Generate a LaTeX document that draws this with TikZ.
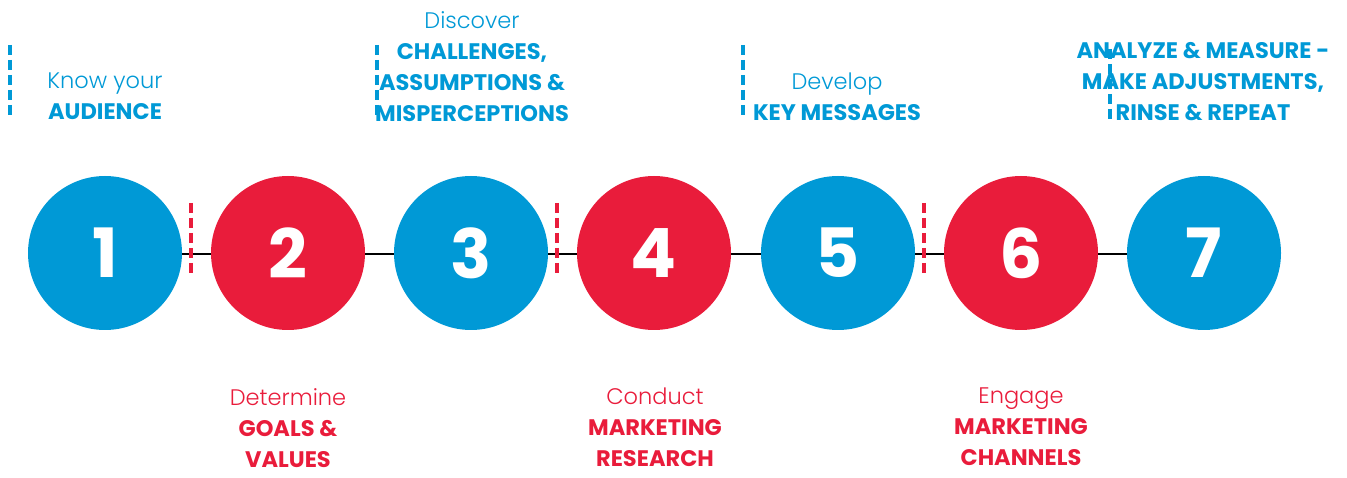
\documentclass[tikz,border=0pt]{standalone}
\usepackage{fontspec}
\setmainfont{Poppins}[UprightFont=* Light, BoldFont=* Bold]
\definecolor{stepblue}{RGB}{0,153,214}
\definecolor{stepred}{RGB}{233,28,59}
\begin{document}
\begin{tikzpicture}[x=1pt,y=-1pt,
  disc/.style={circle,minimum size=154pt,inner sep=0pt,text=white,
    font=\fontsize{68}{68}\selectfont\bfseries},
  lbl/.style={align=center,font=\fontsize{22.5}{31}\selectfont,inner sep=0pt,anchor=north},
  tick/.style={line width=3.6pt,dash pattern=on 10pt off 5pt},
  link/.style={line width=1.6pt,black}]
\useasboundingbox (0,0) rectangle (1347,478);
% connecting line
\draw[link] (105,254) -- (1204,254);
% step discs
\foreach \i/\x/\c in {1/105/stepblue,2/288/stepred,3/471/stepblue,4/654/stepred,5/838/stepblue,6/1021/stepred,7/1204/stepblue}
  \node[disc,fill=\c] (s\i) at (\x,253) {\i};
% red dashed separators on the line
\foreach \x in {191,557,924}
  \draw[tick,stepred] (\x,203) -- (\x,273);
% blue dashed markers above
\foreach \x in {10,377,743}
  \draw[tick,stepblue] (\x,45) -- (\x,115);
\draw[tick,stepblue] (1110,49) -- (1110,119);
% labels above
\node[lbl,text=stepblue] (t1) at (105,73) {Know your\\\textbf{AUDIENCE}};
\node[lbl,text=stepblue] (t3) at (472,11) {Discover\\\textbf{CHALLENGES,}\\\textbf{ASSUMPTIONS \&}\\\textbf{MISPERCEPTIONS}};
\node[lbl,text=stepblue] (t5) at (837,73) {Develop\\\textbf{KEY MESSAGES}};
\node[lbl,text=stepblue] (t7) at (1203,42) {\textbf{ANALYZE \& MEASURE -}\\\textbf{MAKE ADJUSTMENTS,}\\\textbf{RINSE \& REPEAT}};
% labels below
\node[lbl,text=stepred] (t2) at (288,388) {Determine\\\textbf{GOALS \&}\\\textbf{VALUES}};
\node[lbl,text=stepred] (t4) at (655,388) {Conduct\\\textbf{MARKETING}\\\textbf{RESEARCH}};
\node[lbl,text=stepred] (t6) at (1021,388) {Engage\\\textbf{MARKETING}\\\textbf{CHANNELS}};
\end{tikzpicture}
\end{document}
